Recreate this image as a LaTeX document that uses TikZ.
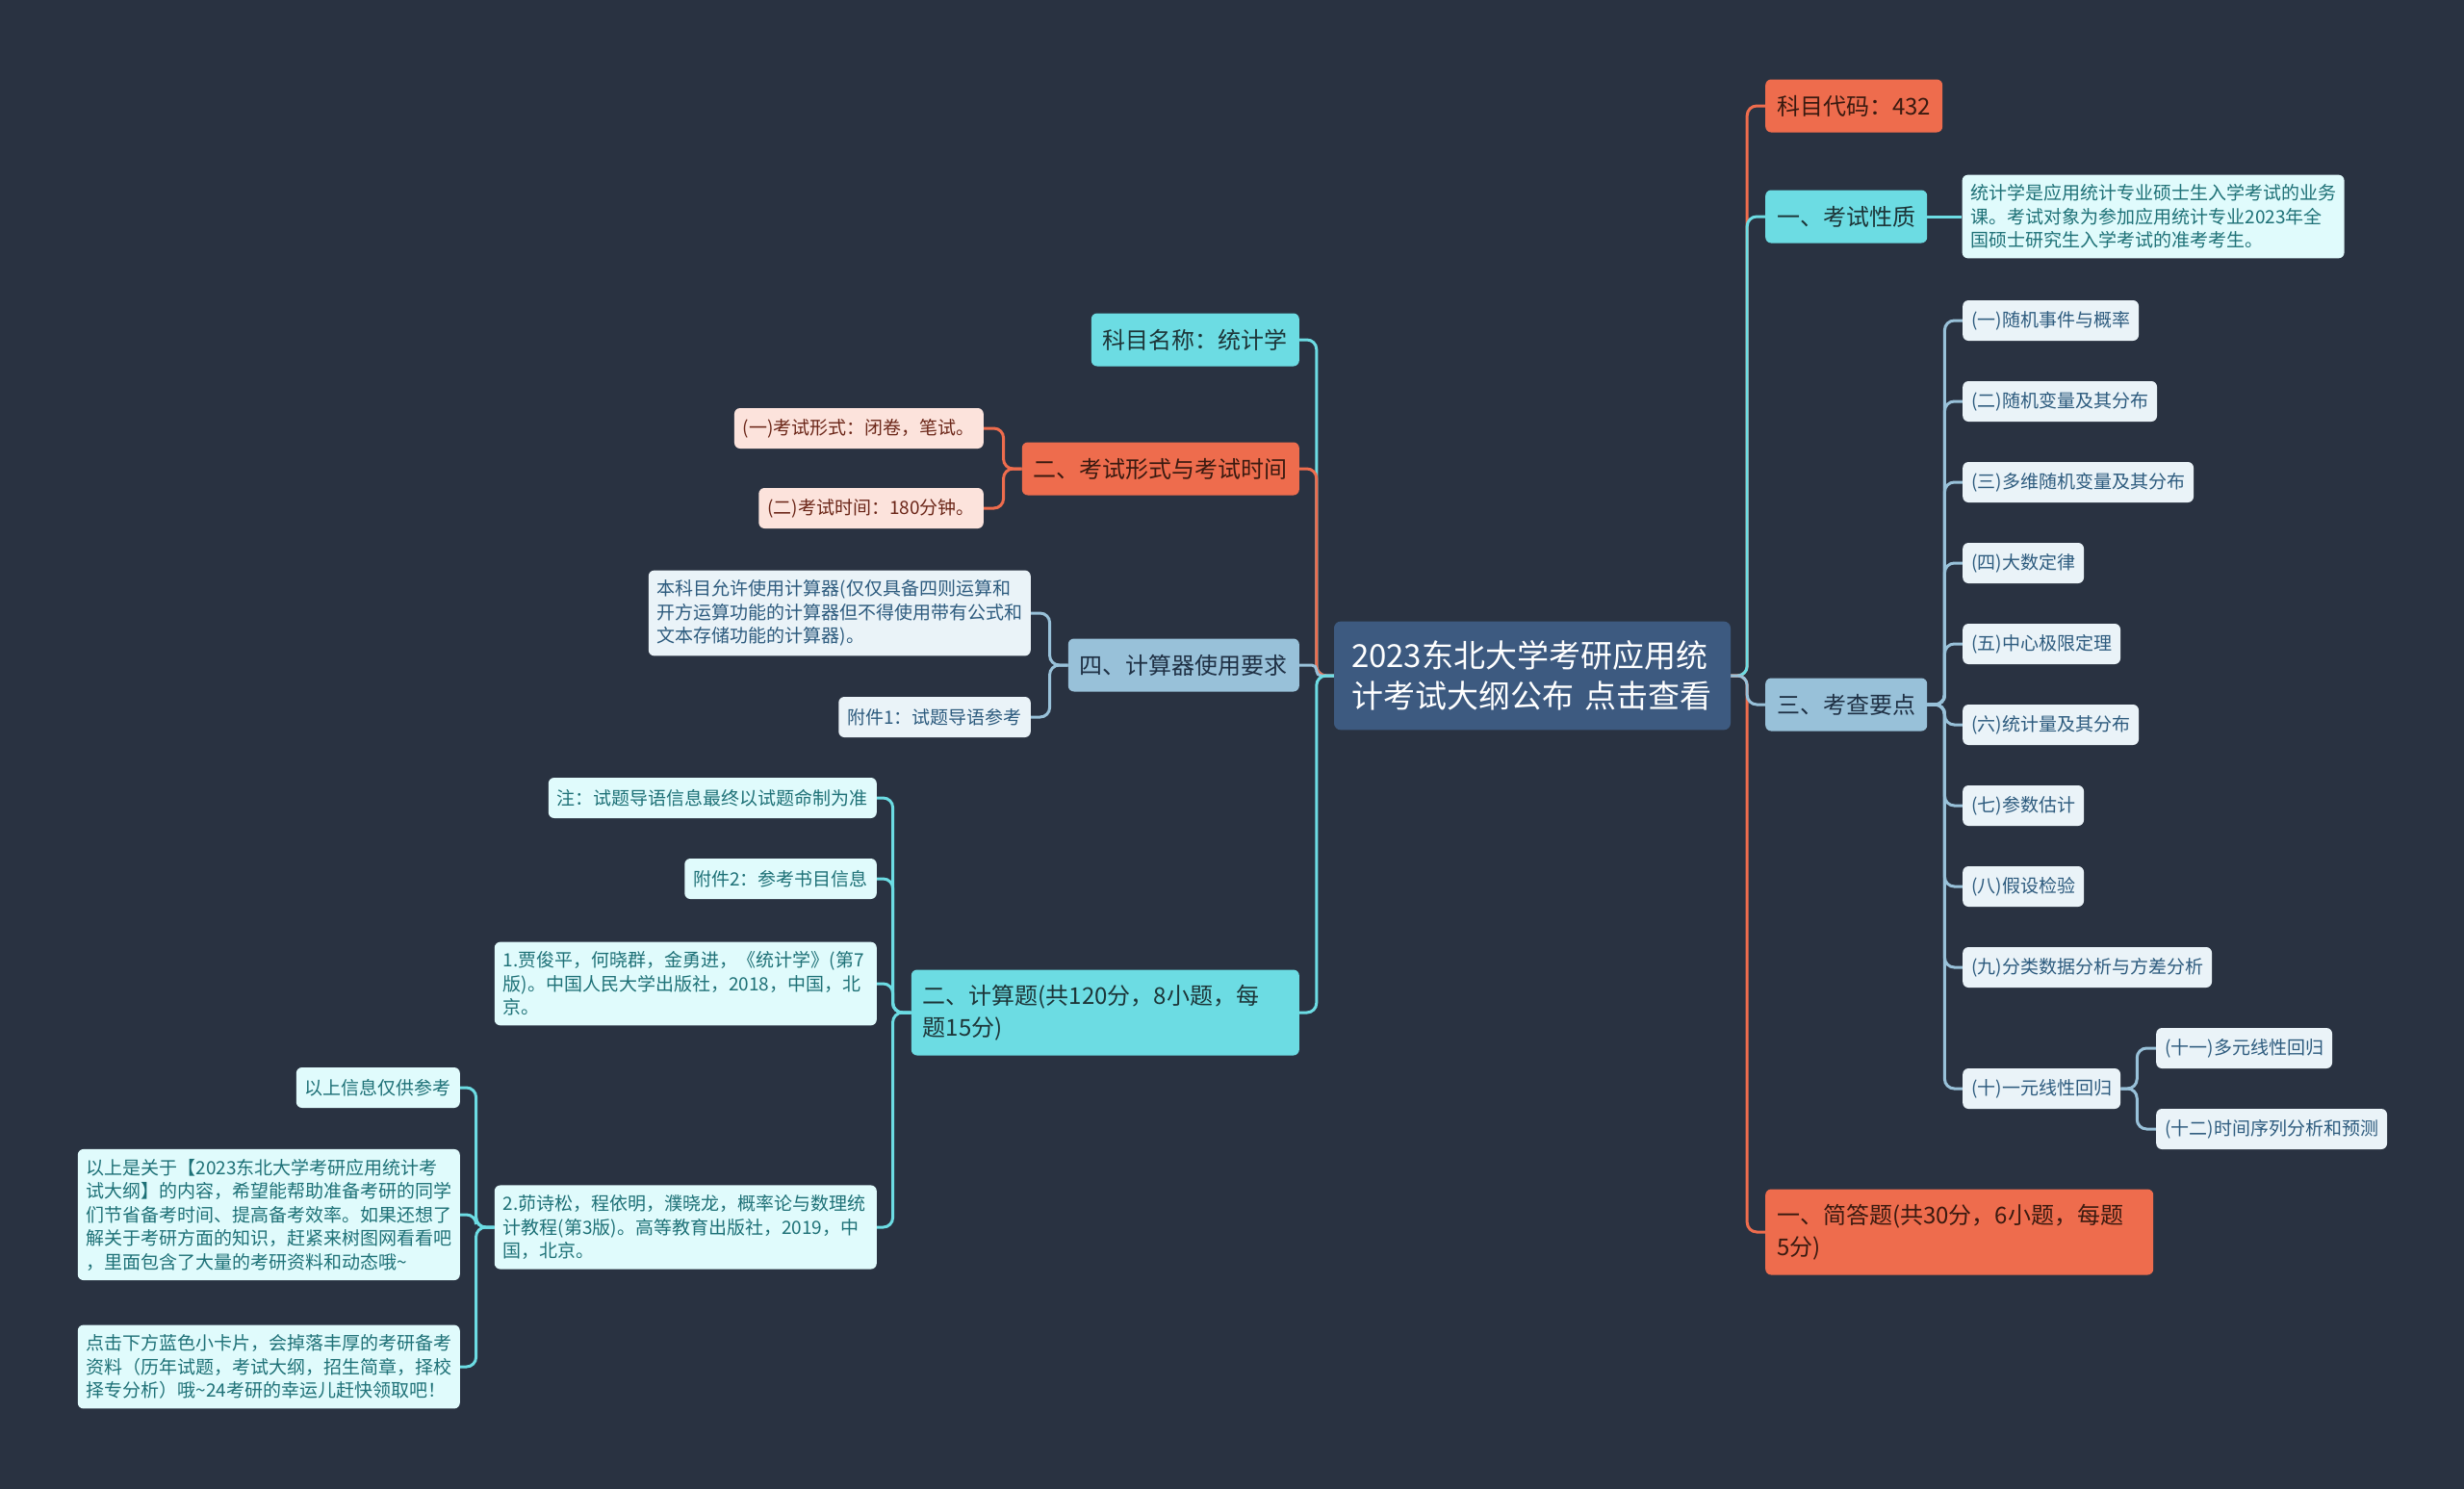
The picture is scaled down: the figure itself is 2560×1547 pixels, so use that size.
\documentclass[tikz,border=0pt]{standalone}
\usepackage{fontspec}
\setmainfont{Noto Sans CJK SC}
\usepackage{tikz}
\usetikzlibrary{positioning,backgrounds}
\definecolor{bg}{HTML}{293241}
\definecolor{rootc}{HTML}{3D5A80}
\definecolor{orangec}{HTML}{EE6C4D}
\definecolor{cyanc}{HTML}{6CDCE3}
\definecolor{bluec}{HTML}{98C1D9}
\definecolor{orangetx}{HTML}{3A1A10}
\definecolor{cyantx}{HTML}{1D3538}
\definecolor{bluetx}{HTML}{1F3044}
\definecolor{leafofill}{HTML}{FCE3DC}
\definecolor{leafotx}{HTML}{6B2618}
\definecolor{leafcfill}{HTML}{E0FBFC}
\definecolor{leafctx}{HTML}{1E7177}
\definecolor{leafbfill}{HTML}{EAF3F8}
\definecolor{leafbtx}{HTML}{2D5B7E}

\begin{document}
\begin{tikzpicture}[x=1pt, y=-1pt,
  every node/.style={inner sep=0pt},
  root/.style={fill=rootc, text=white, rounded corners=7, inner xsep=18, inner ysep=20,
               text width=376, align=left, font=\fontsize{33}{42}\selectfont},
  box/.style={rounded corners=6, inner xsep=12, inner ysep=8, minimum height=55,
              font=\fontsize{24}{33}\selectfont},
  topo/.style={box, fill=orangec, text=orangetx},
  topc/.style={box, fill=cyanc, text=cyantx},
  topb/.style={box, fill=bluec, text=bluetx},
  wide/.style={text width=379, align=left, inner ysep=12, minimum height=89},
  leaf/.style={rounded corners=6, inner xsep=9, inner ysep=10, minimum height=42,
               font=\fontsize{19}{24.5}\selectfont},
  leafo/.style={leaf, fill=leafofill, text=leafotx},
  leafc/.style={leaf, fill=leafcfill, text=leafctx},
  leafb/.style={leaf, fill=leafbfill, text=leafbtx},
  note/.style={text width=379, align=left},
  link/.style={line width=3, rounded corners=10}
]
  \node[root] (root) at (1592,702) {2023东北大学考研应用统\\计考试大纲公布~点击查看};

  % right side
  \node[topo, anchor=west] (subjcode) at (1834,110) {科目代码：432};
  \node[topc, anchor=west] (nature) at (1834,225) {一、考试性质};
  \node[leafc, note, right=36 of nature] (naturetxt)
    {统计学是应用统计专业硕士生入学考试的业务\\课。考试对象为参加应用统计专业2023年全\\国硕士研究生入学考试的准考考生。};

  \node[topb, anchor=west] (points) at (1834,732) {三、考查要点};
  \node[leafb, anchor=west] (pt1) at (2039,333) {(一)随机事件与概率};
  \node[leafb, anchor=west] (pt2) at (2039,417) {(二)随机变量及其分布};
  \node[leafb, anchor=west] (pt3) at (2039,501) {(三)多维随机变量及其分布};
  \node[leafb, anchor=west] (pt4) at (2039,585) {(四)大数定律};
  \node[leafb, anchor=west] (pt5) at (2039,669) {(五)中心极限定理};
  \node[leafb, anchor=west] (pt6) at (2039,753) {(六)统计量及其分布};
  \node[leafb, anchor=west] (pt7) at (2039,837) {(七)参数估计};
  \node[leafb, anchor=west] (pt8) at (2039,921) {(八)假设检验};
  \node[leafb, anchor=west] (pt9) at (2039,1005) {(九)分类数据分析与方差分析};
  \node[leafb, anchor=west] (pt10) at (2039,1131) {(十)一元线性回归};
  \node[leafb, anchor=west] (pt11) at (2240,1089) {(十一)多元线性回归};
  \node[leafb, anchor=west] (pt12) at (2240,1173) {(十二)时间序列分析和预测};

  \node[topo, wide, anchor=west] (shortq) at (1834,1280) {一、简答题(共30分，6小题，每题\\5分)};

  % left side
  \node[topc, anchor=east] (subjname) at (1350,353) {科目名称：统计学};
  \node[topo, anchor=east] (form) at (1350,487) {二、考试形式与考试时间};
  \node[leafo, anchor=east] (form1) at (1022,445) {(一)考试形式：闭卷，笔试。};
  \node[leafo, anchor=east] (form2) at (1022,528) {(二)考试时间：180分钟。};

  \node[topb, anchor=east] (calc) at (1350,691) {四、计算器使用要求};
  \node[leafb, note, anchor=east] (calc1) at (1071,637)
    {本科目允许使用计算器(仅仅具备四则运算和\\开方运算功能的计算器但不得使用带有公式和\\文本存储功能的计算器)。};
  \node[leafb, anchor=east] (calc2) at (1071,745) {附件1：试题导语参考};

  \node[topc, wide, anchor=east] (compq) at (1350,1052) {二、计算题(共120分，8小题，每\\题15分)};
  \node[leafc, anchor=east] (remark) at (911,829) {注：试题导语信息最终以试题命制为准};
  \node[leafc, anchor=east] (attach) at (911,913) {附件2：参考书目信息};
  \node[leafc, note, anchor=east] (book1) at (911,1022)
    {1.贾俊平，何晓群，金勇进，《统计学》(第7\\版)。中国人民大学出版社，2018，中国，北\\京。};
  \node[leafc, note, anchor=east] (book2) at (911,1275)
    {2.茆诗松，程依明，濮晓龙，概率论与数理统\\计教程(第3版)。高等教育出版社，2019，中\\国，北京。};
  \node[leafc, anchor=east] (ref1) at (478,1130) {以上信息仅供参考};
  \node[leafc, note, anchor=east] (ref2) at (478,1262)
    {以上是关于【2023东北大学考研应用统计考\\试大纲】的内容，希望能帮助准备考研的同学\\们节省备考时间、提高备考效率。如果还想了\\解关于考研方面的知识，赶紧来树图网看看吧\\，里面包含了大量的考研资料和动态哦\textasciitilde};
  \node[leafc, note, anchor=east] (ref3) at (478,1420)
    {点击下方蓝色小卡片，会掉落丰厚的考研备考\\资料（历年试题，考试大纲，招生简章，择校\\择专分析）哦\textasciitilde 24考研的幸运儿赶快领取吧！};

  \begin{scope}[on background layer]
    \fill[bg] (0,0) rectangle (2560,1547);
    % right branches
    \draw[link, draw=orangec] (root.east) -- ++(17,0) |- (subjcode.west);
    \draw[link, draw=cyanc] (root.east) -- ++(17,0) |- (nature.west);
    \draw[link, draw=orangec] (root.east) -- ++(17,0) |- (shortq.west);
    \draw[link, draw=bluec] (root.east) -- ++(17,0) |- (points.west);
    \draw[link, draw=cyanc] (nature) -- (naturetxt);
    \draw[link, draw=bluec] (points.east) -- ++(18,0) |- (pt1.west);
    \draw[link, draw=bluec] (points.east) -- ++(18,0) |- (pt2.west);
    \draw[link, draw=bluec] (points.east) -- ++(18,0) |- (pt3.west);
    \draw[link, draw=bluec] (points.east) -- ++(18,0) |- (pt4.west);
    \draw[link, draw=bluec] (points.east) -- ++(18,0) |- (pt5.west);
    \draw[link, draw=bluec] (points.east) -- ++(18,0) |- (pt6.west);
    \draw[link, draw=bluec] (points.east) -- ++(18,0) |- (pt7.west);
    \draw[link, draw=bluec] (points.east) -- ++(18,0) |- (pt8.west);
    \draw[link, draw=bluec] (points.east) -- ++(18,0) |- (pt9.west);
    \draw[link, draw=bluec] (points.east) -- ++(18,0) |- (pt10.west);
    \draw[link, draw=bluec] (pt10.east) -- ++(17,0) |- (pt11.west);
    \draw[link, draw=bluec] (pt10.east) -- ++(17,0) |- (pt12.west);
    % left branches
    \draw[link, draw=cyanc] (root.west) -- ++(-18,0) |- (subjname.east);
    \draw[link, draw=orangec] (root.west) -- ++(-18,0) |- (form.east);
    \draw[link, draw=bluec, rounded corners=5] (root.west) -- ++(-18,0) |- (calc.east);
    \draw[link, draw=cyanc] (root.west) -- ++(-18,0) |- (compq.east);
    \draw[link, draw=orangec] (form.west) -- ++(-19,0) |- (form1.east);
    \draw[link, draw=orangec] (form.west) -- ++(-19,0) |- (form2.east);
    \draw[link, draw=bluec] (calc.west) -- ++(-19,0) |- (calc1.east);
    \draw[link, draw=bluec] (calc.west) -- ++(-19,0) |- (calc2.east);
    \draw[link, draw=cyanc] (compq.west) -- ++(-19,0) |- (remark.east);
    \draw[link, draw=cyanc] (compq.west) -- ++(-19,0) |- (attach.east);
    \draw[link, draw=cyanc] (compq.west) -- ++(-19,0) |- (book1.east);
    \draw[link, draw=cyanc] (compq.west) -- ++(-19,0) |- (book2.east);
    \draw[link, draw=cyanc] (book2.west) -- ++(-19,0) |- (ref1.east);
    \draw[link, draw=cyanc] (book2.west) -- ++(-19,0) |- (ref2.east);
    \draw[link, draw=cyanc] (book2.west) -- ++(-19,0) |- (ref3.east);
  \end{scope}
\end{tikzpicture}
\end{document}
